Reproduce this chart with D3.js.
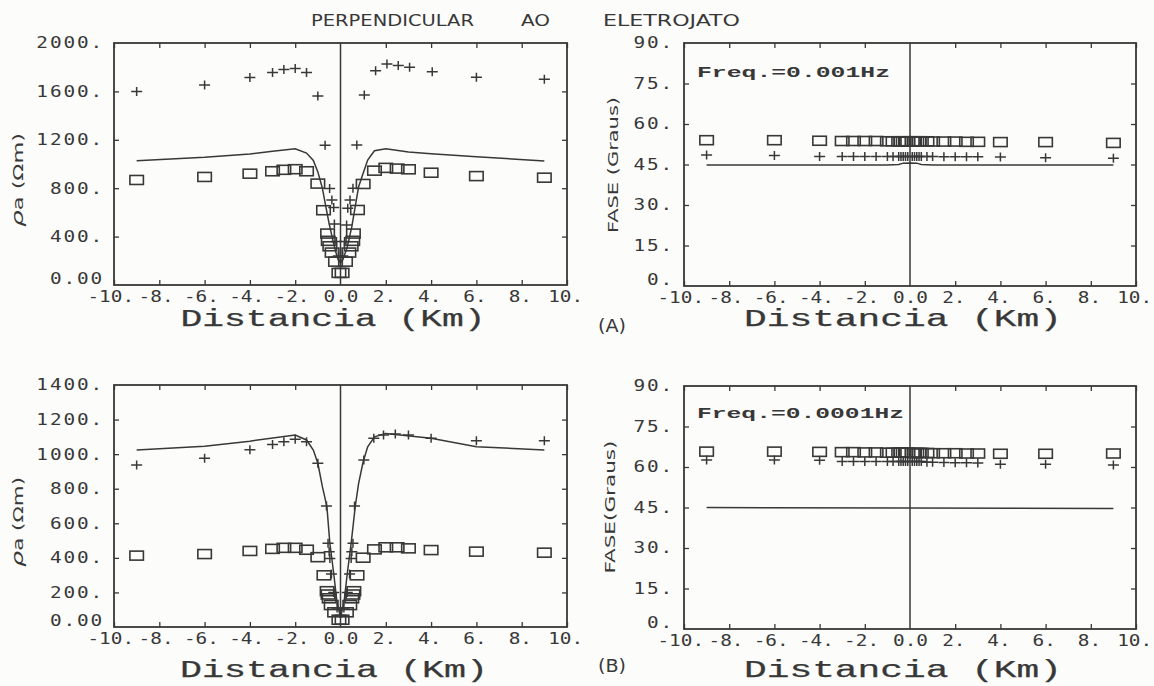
<!DOCTYPE html>
<html><head><meta charset="utf-8">
<script src="https://cdn.jsdelivr.net/npm/d3@7"></script>
<style>
body{margin:0;background:#fcfcfb;}
svg{display:block;}
</style></head><body>
<svg id="chart" width="1154" height="686"></svg>
<script>
// ---------- tick values & labels ----------
const X_TICKS = [-10,-8,-6,-4,-2,0,2,4,6,8,10];
const X_TICK_LABELS = ["-10.","-8.","-6.","-4.","-2.","0.0","2.","4.","6.","8.","10."];
const RHO_A_TICKS = [0,400,800,1200,1600,2000];
const RHO_A_TICK_LABELS = ["0.00","400.","800.","1200.","1600.","2000."];
const RHO_B_TICKS = [0,200,400,600,800,1000,1200,1400];
const RHO_B_TICK_LABELS = ["0.00","200.","400.","600.","800.","1000.","1200.","1400."];
const PHASE_TICKS = [0,15,30,45,60,75,90];
const PHASE_TICK_LABELS = ["0.","15.","30.","45.","60.","75.","90."];

// ---------- (A) resistivity, Freq = 0.001 Hz ----------
const A_RHO_SQ_X = [-9,-6,-4,-3,-2.5,-2,-1.5,-1,-0.75,-0.57,-0.54,-0.47,-0.37,-0.22,-0.07,0.07,0.22,0.37,0.47,0.54,0.57,0.75,1,1.5,2,2.5,3,4,6,9];
const A_RHO_SQ   = [868,893,920,940,952,957,940,838,618,425,365,320,268,193,100,100,193,268,320,365,425,620,835,945,968,962,956,928,900,887];
const A_RHO_CR_X = [-9,-6,-4,-3,-2.5,-2,-1.5,-1,-0.68,-0.48,-0.38,-0.3,-0.27,-0.18,-0.1,0.1,0.18,0.27,0.32,0.42,0.55,0.72,1.05,1.55,2.05,2.55,3.05,4.05,6,9];
const A_RHO_CR   = [1600,1652,1715,1757,1780,1790,1757,1562,1155,797,702,640,505,360,240,240,360,496,634,702,800,1157,1570,1771,1826,1815,1800,1763,1716,1700];
const A_RHO_MOD_X = [-9,-6,-4,-3,-2,-1.5,-1.2,-1,-0.8,-0.65,-0.5,-0.3,-0.15,0,0.15,0.3,0.5,0.65,0.8,1,1.2,1.5,2,3,4,6,9];
const A_RHO_MOD   = [1027,1055,1082,1105,1125,1090,1030,935,800,650,505,340,232,180,232,316,482,647,812,923,1033,1110,1125,1100,1085,1060,1025];

// ---------- (A) phase ----------
const A_PH_X   = [-9,-6,-4,-3,-2.5,-2,-1.5,-1,-0.75,-0.5,-0.4,-0.3,-0.2,-0.1,0.1,0.2,0.3,0.4,0.5,0.75,1,1.5,2,2.5,3,4,6,9];
const A_PH_SQ  = [54.0,54.0,53.8,53.7,53.7,53.7,53.7,53.6,53.6,53.6,53.6,53.6,53.6,53.6,53.6,53.6,53.6,53.6,53.6,53.6,53.5,53.5,53.5,53.4,53.4,53.3,53.3,53.0];
const A_PH_CR  = [48.5,48.3,48.0,48.0,48.0,48.0,48.0,48.0,48.0,48.0,48.0,48.0,48.0,48.0,48.0,48.0,48.0,48.0,48.0,48.0,48.0,47.9,47.9,47.9,47.9,47.8,47.5,47.3];
const A_PH_MOD_X = [-9,-1,-0.5,-0.3,0,0.3,0.5,1,9];
const A_PH_MOD   = [44.8,44.8,45.0,45.5,45.6,45.5,45.0,44.8,44.8];

// ---------- (B) resistivity, Freq = 0.0001 Hz ----------
const B_RHO_SQ_X = [-9,-6,-4,-3,-2.5,-2,-1.5,-1,-0.73,-0.59,-0.55,-0.5,-0.41,-0.26,-0.07,0.07,0.26,0.41,0.5,0.55,0.59,0.73,1,1.5,2,2.5,3,4,6,9];
const B_RHO_SQ   = [413,422,440,452,458,458,447,404,299,207,188,166,127,85,42,42,85,127,166,188,207,299,401,449,461,461,455,445,436,430];
const B_RHO_CR_X = [-9,-6,-4,-3,-2.5,-2,-1.5,-1,-0.62,-0.55,-0.5,-0.47,-0.4,-0.3,-0.15,0.15,0.3,0.4,0.47,0.5,0.55,0.62,1.03,1.47,1.9,2.42,3,4,6,9];
const B_RHO_CR   = [937,976,1026,1056,1072,1086,1072,947,700,484,436,397,307,200,110,110,200,307,397,436,484,700,966,1092,1111,1117,1111,1092,1078,1078];
const B_RHO_MOD_X = [-9,-6,-4,-2,-1.5,-1.2,-1,-0.8,-0.6,-0.47,-0.3,-0.15,0,0.15,0.3,0.47,0.65,0.8,1,1.2,1.5,2,4,6,9];
const B_RHO_MOD   = [1024,1045,1075,1111,1082,1024,947,812,696,484,311,137,60,137,311,484,696,831,956,1043,1100,1120,1092,1043,1024];

// ---------- (B) phase ----------
const B_PH_X   = [-9,-6,-4,-3,-2.5,-2,-1.5,-1,-0.75,-0.5,-0.4,-0.3,-0.2,-0.1,0.1,0.2,0.3,0.4,0.5,0.75,1,1.5,2,2.5,3,4,6,9];
const B_PH_SQ  = [65.7,65.7,65.6,65.5,65.5,65.4,65.4,65.3,65.3,65.3,65.3,65.3,65.3,65.3,65.2,65.2,65.2,65.2,65.2,65.2,65.1,65.1,65.1,65.0,65.0,64.9,64.9,65.0];
const B_PH_CR  = [62.6,62.6,62.5,62.0,62.0,62.0,62.0,62.0,62.0,62.0,62.0,62.0,62.0,62.0,62.0,62.0,62.0,62.0,62.0,61.8,61.8,61.7,61.6,61.6,61.5,61.0,61.0,60.7];
const B_PH_MOD_X = [-9,0,9];
const B_PH_MOD   = [45.0,44.8,44.6];

// ---------- texts ----------
const TITLE_WORDS = ["PERPENDICULAR","AO","ELETROJATO"];
const X_TITLE = "Distancia (Km)";
const FREQ_LABELS = ["Freq.=0.001Hz","Freq.=0.0001Hz"];
const PANEL_LETTERS = ["(A)","(B)"];

// ---------- drawing ----------
const INK = "#383838";
const svg = d3.select("#chart");
svg.append("rect").attr("width",1154).attr("height",686).attr("fill","#fcfcfb");

const TICK_FONT = "'DejaVu Sans Mono', monospace";
const SX = 1.25;

function panel(cfg){
  const x = d3.scaleLinear().domain([-10,10]).range([cfg.left,cfg.right]);
  const y = d3.scaleLinear().domain([0,cfg.ymax]).range([cfg.bottom,cfg.top]);
  const g = svg.append("g");

  g.append("rect").attr("x",cfg.left).attr("y",cfg.top)
    .attr("width",cfg.right-cfg.left).attr("height",cfg.bottom-cfg.top)
    .attr("fill","none").attr("stroke",INK).attr("stroke-width",1.8);
  g.append("line").attr("x1",x(0)).attr("x2",x(0)).attr("y1",y(0)).attr("y2",y(cfg.ymax))
    .attr("stroke",INK).attr("stroke-width",1.5);

  const styleAxis = sel => {
    sel.select(".domain").remove();
    sel.selectAll(".tick line").attr("stroke",INK).attr("stroke-width",1.3);
    sel.selectAll(".tick text").attr("fill",INK).attr("font-family",TICK_FONT)
      .attr("font-size",15.5).attr("letter-spacing","1.5px");
  };
  const xb = d3.axisBottom(x).tickValues(X_TICKS).tickFormat((d,i)=>X_TICK_LABELS[i])
      .tickSizeInner(-5).tickSizeOuter(0).tickPadding(6);
  const gb = g.append("g").attr("transform",`translate(0,${cfg.bottom})`).call(xb).call(styleAxis);
  gb.selectAll(".tick text").attr("transform","scale("+SX+",1)").attr("letter-spacing","0px")
    .attr("dx",d => d<0 ? -3 : (d===0 ? 0 : -1.5));
  gb.selectAll(".tick").filter(d=>d===0).select("line").remove();

  const xt = d3.axisTop(x).tickValues(X_TICKS).tickFormat("").tickSizeInner(-5).tickSizeOuter(0);
  g.append("g").attr("transform",`translate(0,${cfg.top})`).call(xt).call(styleAxis)
    .selectAll(".tick").filter(d=>d===0).remove();

  const yl = d3.axisLeft(y).tickValues(cfg.yticks).tickFormat((d,i)=>cfg.ylabels[i])
      .tickSizeInner(-5).tickSizeOuter(0).tickPadding(cfg.ypad);
  const gl = g.append("g").attr("transform",`translate(${cfg.left},0)`).call(yl).call(styleAxis);
  gl.selectAll(".tick text").attr("transform","scale("+SX+",1)");
  gl.selectAll(".tick").filter(d=>d===0).select("text").attr("dy","-0.1em");
  gl.selectAll(".tick").filter(d=>d===0||d===cfg.ymax).select("line").remove();

  const yr = d3.axisRight(y).tickValues(cfg.yticks).tickFormat("").tickSizeInner(-5).tickSizeOuter(0);
  g.append("g").attr("transform",`translate(${cfg.right},0)`).call(yr).call(styleAxis)
    .selectAll(".tick").filter(d=>d===0||d===cfg.ymax).remove();

  const line = d3.line().x(d=>x(d[0])).y(d=>y(d[1]));
  g.append("path").datum(d3.zip(cfg.modX,cfg.mod)).attr("d",line)
    .attr("fill","none").attr("stroke",INK).attr("stroke-width",1.5);

  const W=13.5,H=9;
  g.append("g").selectAll("rect").data(d3.zip(cfg.sqX,cfg.sq)).join("rect")
    .attr("x",d=>x(d[0])-W/2).attr("y",d=>y(d[1])-H/2).attr("width",W).attr("height",H)
    .attr("fill","none").attr("stroke",INK).attr("stroke-width",1.6);
  const CW=5.5,CH=4.5;
  g.append("g").selectAll("path").data(d3.zip(cfg.crX,cfg.cr)).join("path")
    .attr("d",d=>{const cx=x(d[0]),cy=y(d[1]);
      return `M${cx-CW},${cy}H${cx+CW}M${cx},${cy-CH}V${cy+CH}`;})
    .attr("fill","none").attr("stroke",INK).attr("stroke-width",1.5);

  g.append("text").attr("x",cfg.xtX).attr("y",cfg.xtY).attr("text-anchor","middle")
    .attr("font-family","'Liberation Mono', 'Courier New', monospace")
    .attr("font-size",23).attr("fill",INK).attr("stroke",INK).attr("stroke-width",0.25)
    .attr("textLength",cfg.xtLen).attr("lengthAdjust","spacingAndGlyphs").text(X_TITLE);

  const yt = g.append("text").attr("transform",`translate(${cfg.ytX},${cfg.ytY}) rotate(-90)`)
    .attr("text-anchor","middle").attr("font-family","'DejaVu Sans', sans-serif")
    .attr("font-size",13.5).attr("fill",INK)
    .attr("textLength",cfg.ytLen).attr("lengthAdjust","spacingAndGlyphs");
  if(cfg.rho){
    yt.append("tspan").attr("font-style","italic").attr("font-size",16).text("ρ");
    yt.append("tspan").text("a (Ωm)");
  } else {
    yt.text(cfg.ytText);
  }

  if(cfg.freq){
    g.append("text").attr("x",cfg.freqX).attr("y",cfg.freqY)
      .attr("font-family","'Liberation Mono', 'Courier New', monospace").attr("font-weight","bold")
      .attr("font-size",15).attr("fill",INK)
      .attr("textLength",cfg.freqLen).attr("lengthAdjust","spacingAndGlyphs").text(cfg.freq);
  }
}

panel({left:114,right:567,top:43,bottom:285,ymax:2000,yticks:RHO_A_TICKS,ylabels:RHO_A_TICK_LABELS,ypad:8,
  sqX:A_RHO_SQ_X,sq:A_RHO_SQ,crX:A_RHO_CR_X,cr:A_RHO_CR,modX:A_RHO_MOD_X,mod:A_RHO_MOD,
  xtX:333,xtY:326,xtLen:305,ytX:23,ytY:180,ytLen:94,rho:true});
panel({left:684,right:1136,top:43,bottom:286,ymax:90,yticks:PHASE_TICKS,ylabels:PHASE_TICK_LABELS,ypad:8,
  sqX:A_PH_X,sq:A_PH_SQ,crX:A_PH_X,cr:A_PH_CR,modX:A_PH_MOD_X,mod:A_PH_MOD,
  xtX:903,xtY:326,xtLen:318,ytX:618,ytY:165,ytLen:136,ytText:"FASE (Graus)",
  freq:FREQ_LABELS[0],freqX:697,freqY:77,freqLen:193});
panel({left:114,right:567,top:385,bottom:627,ymax:1400,yticks:RHO_B_TICKS,ylabels:RHO_B_TICK_LABELS,ypad:8,
  sqX:B_RHO_SQ_X,sq:B_RHO_SQ,crX:B_RHO_CR_X,cr:B_RHO_CR,modX:B_RHO_MOD_X,mod:B_RHO_MOD,
  xtX:334,xtY:677,xtLen:308,ytX:23,ytY:522,ytLen:90,rho:true});
panel({left:684,right:1136,top:386,bottom:629,ymax:90,yticks:PHASE_TICKS,ylabels:PHASE_TICK_LABELS,ypad:8,
  sqX:B_PH_X,sq:B_PH_SQ,crX:B_PH_X,cr:B_PH_CR,modX:B_PH_MOD_X,mod:B_PH_MOD,
  xtX:903,xtY:677,xtLen:318,ytX:615,ytY:507,ytLen:133,ytText:"FASE(Graus)",
  freq:FREQ_LABELS[1],freqX:697,freqY:418,freqLen:207});

// title
const TITLE_POS = [[311,474],[521,550],[603,740]];
TITLE_WORDS.forEach((w,i)=>{
  svg.append("text").attr("x",TITLE_POS[i][0]).attr("y",26)
    .attr("font-family","'DejaVu Sans', sans-serif").attr("font-size",16.5).attr("fill",INK)
    .attr("textLength",TITLE_POS[i][1]-TITLE_POS[i][0]).attr("lengthAdjust","spacingAndGlyphs").text(w);
});
// panel letters
[[325,PANEL_LETTERS[0]],[665,PANEL_LETTERS[1]]].forEach(([yy,t])=>{
  svg.append("text").attr("x",612).attr("y",yy+7).attr("text-anchor","middle")
    .attr("font-family","'DejaVu Sans', sans-serif").attr("font-size",18).attr("fill",INK)
    .attr("textLength",28).attr("lengthAdjust","spacingAndGlyphs").text(t);
});
</script>
</body></html>
